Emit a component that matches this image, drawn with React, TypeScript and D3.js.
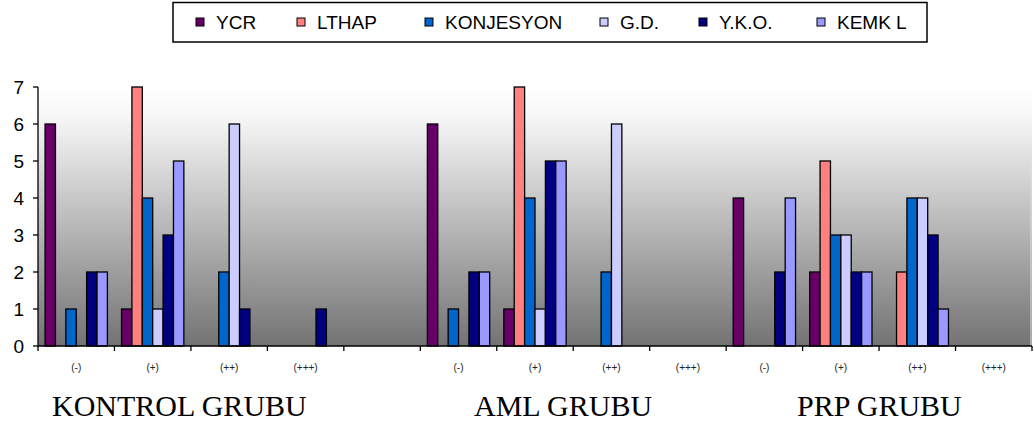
import React from "react";
import * as d3 from "d3";

const series = ["YCR", "LTHAP", "KONJESYON", "G.D.", "Y.K.O.", "KEMK L"];
const colors = ["#660066", "#FF8080", "#0066CC", "#CCCCFF", "#000080", "#9999FF"];
const categories = ["(-)", "(+)", "(++)", "(+++)", "", "(-)", "(+)", "(++)", "(+++)", "(-)", "(+)", "(++)", "(+++)"];
// values per category, series order: YCR, LTHAP, KONJESYON, G.D., Y.K.O., KEMK L
const YCR = [6, 1, 0, 0, 0, 6, 1, 0, 0, 4, 2, 0, 0];
const LTHAP = [0, 7, 0, 0, 0, 0, 7, 0, 0, 0, 5, 2, 0];
const KONJESYON = [1, 4, 2, 0, 0, 1, 4, 2, 0, 0, 3, 4, 0];
const GD = [0, 1, 6, 0, 0, 0, 1, 6, 0, 0, 3, 4, 0];
const YKO = [2, 3, 1, 1, 0, 2, 5, 0, 0, 2, 2, 3, 0];
const KEMKL = [2, 5, 0, 0, 0, 2, 5, 0, 0, 4, 2, 1, 0];
const seriesValues = [YCR, LTHAP, KONJESYON, GD, YKO, KEMKL];
const yTicks = [0, 1, 2, 3, 4, 5, 6, 7];
const groupLabels = ["KONTROL GRUBU", "AML GRUBU", "PRP GRUBU"];
const groupLabelX = [52, 474, 797];
const legendX = [196, 297, 425, 600, 699, 817];

export default function App() {
  const left = 38, right = 1032, top = 87, bottom = 346;
  const x = d3.scaleBand<number>().domain(categories.map((_, i) => i)).range([left, right]).paddingInner(0).paddingOuter(0);
  const xs = d3.scaleBand<number>().domain(series.map((_, i) => i)).range([0, x.bandwidth()]).paddingInner(0).paddingOuter(0.68);
  const y = d3.scaleLinear().domain([0, 7]).range([bottom, top]);
  const boundaries = d3.range(categories.length + 1).map((i) => left + i * x.step());

  return (
    <svg width={1034} height={426} style={{ position: "absolute", left: 0, top: 0, background: "#fff" }}>
      <defs>
        <linearGradient id="bg" x1="0" y1="0" x2="0" y2="1">
          <stop offset="0" stopColor="#ffffff" />
          <stop offset="0.12" stopColor="#f6f6f6" />
          <stop offset="1" stopColor="#737373" />
        </linearGradient>
      </defs>
      <rect x={left} y={top} width={right - left} height={bottom - top} fill="url(#bg)" />
      <line x1={right - 1} x2={right - 1} y1={top + 60} y2={bottom} stroke="#e0e0e0" strokeWidth={1} />
      {/* legend */}
      <rect x={173} y={2.5} width={754} height={39.5} fill="#fff" stroke="#000" strokeWidth={1.5} />
      {series.map((s, i) => (
        <g key={s}>
          <rect x={legendX[i]} y={18} width={8} height={8} fill={colors[i]} stroke="#000" strokeWidth={1} />
          <text x={legendX[i] + 20} y={29} fontFamily="'Liberation Sans', Arial, sans-serif" fontSize={19} fill="#000">{s}</text>
        </g>
      ))}
      {/* bars */}
      {categories.map((c, ci) =>
        seriesValues.map((vals, si) =>
          vals[ci] > 0 ? (
            <rect
              key={`${ci}-${si}`}
              x={(x(ci) as number) + (xs(si) as number)}
              y={y(vals[ci])}
              width={xs.bandwidth()}
              height={bottom - y(vals[ci])}
              fill={colors[si]}
              stroke="#000"
              strokeWidth={1.3}
            />
          ) : null
        )
      )}
      {/* axes */}
      <line x1={left} x2={left} y1={top} y2={bottom} stroke="#000" strokeWidth={1.3} />
      {yTicks.map((t) => (
        <g key={t}>
          <line x1={left - 5} x2={left} y1={y(t)} y2={y(t)} stroke="#000" strokeWidth={1.3} />
          <text x={24} y={y(t) + 7} textAnchor="end" fontFamily="'Liberation Sans', Arial, sans-serif" fontSize={19} fill="#000">{t}</text>
        </g>
      ))}
      <line x1={left} x2={right} y1={bottom} y2={bottom} stroke="#000" strokeWidth={1.3} />
      {boundaries.map((bx, i) => (
        <line key={i} x1={bx} x2={bx} y1={bottom} y2={bottom + 5} stroke="#000" strokeWidth={1.3} />
      ))}
      {categories.map((c, ci) => (
        <text key={ci} x={(x(ci) as number) + x.bandwidth() / 2} y={371} textAnchor="middle" fontFamily="'Liberation Sans', Arial, sans-serif" fontSize={10} fill="#222">{c}</text>
      ))}
      {groupLabels.map((g, i) => (
        <text key={g} x={groupLabelX[i]} y={416} fontFamily="'Liberation Serif', 'Times New Roman', serif" fontSize={30} fill="#000">{g}</text>
      ))}
    </svg>
  );
}
